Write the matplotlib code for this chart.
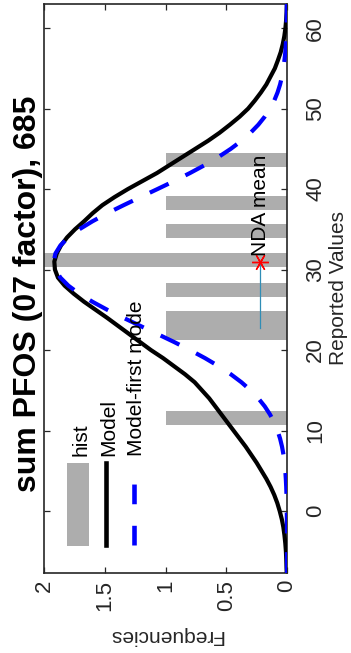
import numpy as np
import matplotlib
matplotlib.use('Agg')
import matplotlib.pyplot as plt
from matplotlib.patches import Rectangle
from matplotlib.lines import Line2D

plt.rcParams['font.family'] = ['Liberation Sans', 'DejaVu Sans']

# histogram of reported values (bin centres / frequency)
bin_centers = [11.6, 22.2, 24.0, 27.5, 31.2, 34.8, 38.3, 43.6]
bin_freq = [1, 1, 1, 1, 2, 1, 1, 1]
bin_width = 1.78

# model curves
values = [-7.7, -7, -6, -5, -4, -3, -2, -1, 0, 1, 2, 3, 4, 5, 6, 7, 8, 9, 10,
          11, 12, 13, 14, 15, 16, 17, 18, 19, 20, 21, 22, 23, 24, 25, 26, 27, 28,
          29, 30, 31, 32, 33, 34, 35, 36, 37, 38, 39, 40, 41, 42, 43, 44, 45, 46,
          47, 48, 49, 50, 51, 52, 53, 54, 55, 56, 57, 58, 59, 60, 61, 62, 63]
model = [0.002, 0.004, 0.006, 0.009, 0.014, 0.021, 0.030, 0.043, 0.06, 0.08, 0.105,
         0.135, 0.17, 0.21, 0.25, 0.295, 0.34, 0.39, 0.44, 0.49, 0.54, 0.59, 0.64,
         0.70, 0.76, 0.84, 0.93, 1.02, 1.12, 1.21, 1.30, 1.39, 1.48, 1.575, 1.67,
         1.755, 1.83, 1.885, 1.91, 1.915, 1.895, 1.86, 1.81, 1.745, 1.67, 1.60, 1.52,
         1.42, 1.31, 1.19, 1.07, 0.965, 0.86, 0.755, 0.65, 0.555, 0.47, 0.39, 0.32,
         0.265, 0.215, 0.17, 0.135, 0.10, 0.075, 0.052, 0.035, 0.022, 0.013, 0.007,
         0.003, 0.001]
first_mode = [0.0, 0.0, 0.0001, 0.0002, 0.0003, 0.0004, 0.0007, 0.0011, 0.0018, 0.0028,
              0.0043, 0.0065, 0.0097, 0.014, 0.021, 0.029, 0.041, 0.057, 0.078, 0.105,
              0.140, 0.183, 0.236, 0.300, 0.375, 0.463, 0.563, 0.675, 0.798, 0.929,
              1.067, 1.207, 1.345, 1.479, 1.601, 1.710, 1.799, 1.865, 1.906, 1.92,
              1.906, 1.865, 1.799, 1.710, 1.601, 1.479, 1.345, 1.207, 1.067, 0.929,
              0.798, 0.675, 0.563, 0.463, 0.375, 0.300, 0.236, 0.183, 0.140, 0.105,
              0.078, 0.057, 0.041, 0.029, 0.021, 0.014, 0.0097, 0.0065, 0.0043, 0.0028,
              0.0018, 0.0011]

nda_mean = 30.9
nda_low = 22.7
nda_freq = 0.22

title = 'sum PFOS (07 factor), 685'
W, H = 351, 653
dark = '#262626'

fig = plt.figure(figsize=(W / 100, H / 100), dpi=100)
ax = fig.add_axes([44 / W, 1 - 573 / H, 243 / W, 569 / H])

ax.barh(bin_centers, bin_freq, height=bin_width, color='#adadad', linewidth=0, zorder=1)
ax.plot(model, values, color='black', lw=3.0, zorder=3)
ax.plot(first_mode, values, color='#0000ff', lw=3.0, dashes=(5, 4.5),
        dash_capstyle='butt', zorder=4)

ax.plot([nda_freq, nda_freq], [nda_low, nda_mean], color='#2f8db5', lw=0.9, zorder=5)
ax.plot([nda_freq], [nda_mean], marker=(6, 2, 90), color='red', ms=12, mew=1.0,
        ls='none', zorder=6)
ax.text(nda_freq, nda_mean + 0.8, 'NDA mean', rotation=90, ha='center', va='bottom',
        fontsize=15, color='black', zorder=7)

ax.set_xlim(2, 0)
ax.set_ylim(-7.7, 63)
ax.set_xticks([0, 0.5, 1, 1.5, 2])
ax.set_xticklabels(['0', '0.5', '1', '1.5', '2'])
ax.set_yticks(range(0, 61, 10))
ax.tick_params(axis='both', direction='in', length=4.3, width=0.9, color=dark,
               labelcolor=dark, labelsize=16, top=True, bottom=True, left=True, right=True)
ax.tick_params(axis='y', labelleft=False, labelright=True, labelrotation=90, pad=13)
ax.tick_params(axis='x', labelrotation=90, pad=5)
for lab in ax.get_yticklabels():
    lab.set_va('center')
    lab.set_ha('left')
for sp in ax.spines.values():
    sp.set_color(dark)
    sp.set_linewidth(1.2)

# legend drawn by hand so its text can be rotated like the rest
ta = ax.transAxes
ax.add_patch(Rectangle((0.095, 0.0475), 0.09, 0.146, transform=ta, color='#adadad',
                       lw=0, zorder=8))
ax.add_line(Line2D([0.255, 0.255], [0.049, 0.193], transform=ta, color='black',
                   lw=3.3, zorder=8))
ax.add_line(Line2D([0.370, 0.370], [0.049, 0.193], transform=ta, color='#0000ff',
                   lw=3.3, dashes=(4.3, 4.7), dash_capstyle='butt', zorder=8))
for xpos, txt in [(0.152, 'hist'), (0.267, 'Model'), (0.379, 'Model-first mode')]:
    ax.text(xpos, 0.206, txt, transform=ta, rotation=90, ha='center', va='bottom',
            fontsize=15, color='black', zorder=8)

fig.text(43.5 / W, 1 - 294 / H, title, rotation=90, ha='right', va='center',
         fontsize=23, fontweight='bold', color='black')
fig.text(329 / W, 1 - 288 / H, 'Reported Values', rotation=90, ha='left', va='center',
         fontsize=15, color=dark)
fig.text(165.5 / W, 1 - 635 / H, 'Frequencies', rotation=180, ha='center', va='center',
         fontsize=15, color=dark)

fig.savefig('out.png', dpi=100)
